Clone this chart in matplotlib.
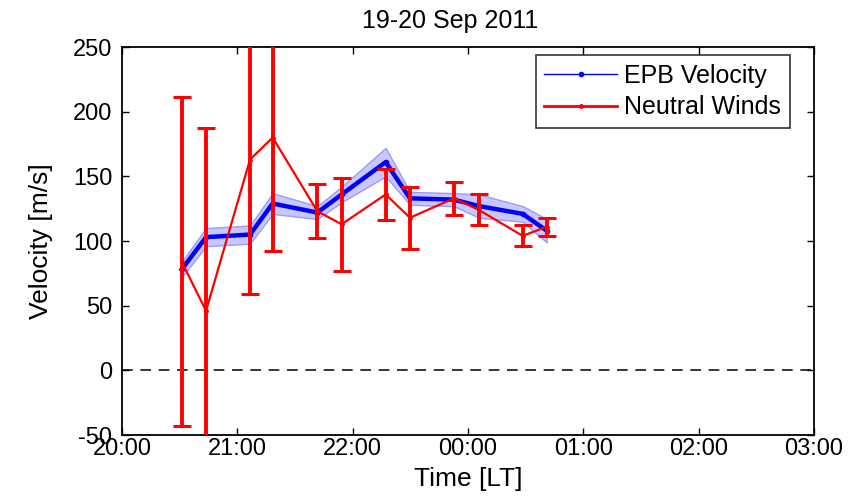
import numpy as np
import matplotlib
matplotlib.use('Agg')
import matplotlib.pyplot as plt

plt.rcParams['font.family'] = ['Liberation Sans', 'DejaVu Sans']
plt.rcParams['axes.unicode_minus'] = False

# Time of each sample (hours on the plot axis)
times = [20.604, 20.850, 21.295, 21.524, 21.976, 22.222,
         22.667, 22.913, 23.358, 23.611, 24.053, 24.296]

# EPB drift velocity and its uncertainty band [m/s]
epb = [78, 103, 105, 129, 122, 136, 161, 133, 132, 127, 121, 108]
epb_err = [6, 7, 7, 8, 5, 6, 11, 5, 5, 9, 6, 9]

# Neutral winds with error bars [m/s]
wind = [84, 46, 163, 180, 123, 113, 136, 118, 133, 124, 104, 111]
wind_err = [127, 141, 104, 88, 21, 36, 20, 24, 13, 12, 8, 7]

xtick_labels = ['20:00', '21:00', '22:00', '00:00', '01:00', '02:00', '03:00']
yticks = [-50, 0, 50, 100, 150, 200, 250]

t = np.array(times)
v = np.array(epb)
dv = np.array(epb_err)

fig = plt.figure(figsize=(8.58, 4.97), dpi=100)
ax = fig.add_axes([0.1422, 0.1247, 0.8065, 0.7807])

# shaded uncertainty for the EPB velocity
ax.fill_between(t, v - dv, v + dv, facecolor='#c8c8ff', edgecolor='#9a9aff',
                linewidth=1, zorder=1)
epb_line, = ax.plot(t, v, color='blue', linewidth=3.2, marker='.',
                    markersize=6, zorder=3)

eb = ax.errorbar(times, wind, yerr=wind_err, color='red', linewidth=1.6,
                 elinewidth=2.8, capsize=6.5, capthick=2.2, marker='.',
                 markersize=5, zorder=4)

ax.axhline(0, color='black', linestyle=(0, (7, 5)), linewidth=1.1, zorder=2)

ax.set_xlim(20, 27)
ax.set_ylim(-50, 250)
ax.set_xticks(np.linspace(20, 27, 7))
ax.set_xticklabels(xtick_labels)
ax.set_yticks(yticks)

ax.tick_params(direction='in', top=True, right=True, length=5, width=1,
               labelsize=17)
ax.tick_params(axis='x', pad=2)
ax.tick_params(axis='y', pad=7)
for s in ax.spines.values():
    s.set_linewidth(1.3)

ax.set_title('19-20 Sep 2011', fontsize=18, x=0.474, pad=14)
ax.set_xlabel('Time [LT]', fontsize=19, labelpad=5)
ax.set_ylabel('Velocity [m/s]', fontsize=19, labelpad=14)

leg = ax.legend([epb_line, eb.lines[0]], ['EPB Velocity', 'Neutral Winds'],
                loc='upper right', bbox_to_anchor=(0.9653, 0.979),
                borderaxespad=0, fontsize=18, frameon=True, fancybox=False,
                edgecolor='black', handlelength=2.9, handletextpad=0.3,
                borderpad=0.35, labelspacing=0.3)
leg.get_frame().set_linewidth(1.2)
leg_lines = leg.get_lines()
leg_lines[0].set_linewidth(1)
leg_lines[1].set_linewidth(2)

fig.savefig('out.png', dpi=100)
